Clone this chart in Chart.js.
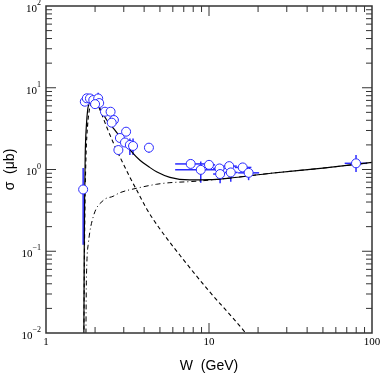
<!DOCTYPE html>
<html>
<head>
<meta charset="utf-8">
<title>sigma vs W</title>
<script src="https://cdn.jsdelivr.net/npm/chart.js@4.4.1/dist/chart.umd.min.js"></script>
<style>
  html, body { margin: 0; padding: 0; background: #fff; }
  #wrap { width: 382px; height: 379px; position: relative; }
</style>
</head>
<body>
<div id="wrap"><canvas id="sigmaChart"></canvas></div>
<script>
// Measured points (W in GeV, sigma in microbarn)
const dataW = [1.69, 1.73, 1.78, 1.86, 1.95, 2.09, 2.12, 2.00, 2.30, 2.49, 2.61, 2.53, 3.10, 2.84, 3.05,
               3.27, 3.42, 2.78, 4.28, 7.72, 8.9, 10.0, 11.6, 11.7, 13.3, 13.6, 16.1, 17.5, 79.8];
const dataS = [0.57, 6.75, 7.43, 7.40, 7.08, 7.40, 6.50, 6.30, 5.09, 5.09, 4.03, 3.74, 2.90, 2.43, 2.14,
               2.00, 1.94, 1.73, 1.85, 1.17, 0.99, 1.14, 1.03, 0.88, 1.10, 0.92, 1.06, 0.91, 1.19];
// error bars (null = hidden behind the marker)
const sLo = [0.12, null, null, null, null, 6.3, null, null, null, null, null, null, null, null, null,
             1.5, 1.5, null, 1.6, null, 0.69, null, null, 0.68, null, 0.71, 0.99, 0.74, 0.93];
const sHi = [1.04, null, null, null, null, 8.7, null, null, null, null, null, null, null, null, null,
             2.4, 2.4, null, 2.1, null, 1.25, null, null, 1.04, null, 1.04, 1.2, 1.04, 1.5];
const wLo = [null, null, null, null, null, null, null, null, null, null, null, null, null, null, null,
             null, null, null, null, 6.2, 6.2, 9.4, 10.6, 10.6, 12.2, 12.5, 14.4, 15.1, 68];
const wHi = [null, null, null, null, null, null, null, null, null, null, null, null, null, null, null,
             null, null, null, null, 9.7, 11.1, 10.9, 12.5, 12.5, 14.8, 15.0, 18.2, 20.3, 93];

// Model curves
const totalW = [1.705, 1.715, 1.725, 1.74, 1.77, 1.80, 1.835, 1.89, 1.955, 2.05, 2.2, 2.357, 2.61, 2.98,
                3.4, 3.77, 4.3, 4.8, 5.76, 7.6, 10, 13, 24, 50, 100];
const totalS = [0.005, 0.08, 0.4, 1.5, 3.5, 5.3, 6.4, 7.0, 7.1, 6.45, 5.1, 4.03, 3.13, 2.23,
                1.6, 1.3, 1.07, 0.93, 0.8, 0.745, 0.75, 0.78, 0.90, 1.04, 1.22];
const dashW = [1.705, 1.72, 1.735, 1.76, 1.80, 1.84, 1.915, 1.97, 2.05, 2.145, 2.357, 2.576, 2.844,
               3.275, 3.6, 4.15, 5.0, 7.0, 10, 14, 18];
const dashS = [0.005, 0.08, 0.4, 1.5, 3.5, 5.2, 6.69, 6.8, 6.4, 5.35, 3.31, 2.17, 1.42,
               0.80, 0.56, 0.329, 0.187, 0.078, 0.0326, 0.0153, 0.0085];
const dotW = [1.755, 1.765, 1.78, 1.82, 1.95, 2.25, 2.58, 2.84, 3.6, 4.77, 5.76, 7.6, 10, 13, 24, 50, 100];
const dotS = [0.005, 0.03, 0.07, 0.126, 0.265, 0.42, 0.47, 0.52, 0.59, 0.66, 0.69, 0.71, 0.74, 0.78, 0.90, 1.04, 1.22];

// Axis labels
const xLabelVals = [1, 10, 100];
const xLabelText = ['1', '10', '100'];
const yExponents = [-2, -1, 0, 1, 2];

const blue = '#2b2bff';
const toXY = (xs, ys) => xs.map((v, i) => ({ x: v, y: ys[i] }));

function strokeLine(ctx, x1, y1, x2, y2) {
    ctx.beginPath();
    ctx.moveTo(x1, y1);
    ctx.lineTo(x2, y2);
    ctx.stroke();
}

// error bars, drawn under the markers
const errorBars = {
    id: 'errorBars',
    beforeDatasetsDraw(chart) {
        const { ctx, scales: { x, y } } = chart;
        ctx.save();
        ctx.strokeStyle = blue;
        ctx.lineWidth = 1.5;
        dataW.forEach((w, i) => {
            const px = x.getPixelForValue(w);
            const py = y.getPixelForValue(dataS[i]);
            if (sLo[i] != null) strokeLine(ctx, px, y.getPixelForValue(sLo[i]), px, y.getPixelForValue(sHi[i]));
            if (wLo[i] != null) strokeLine(ctx, x.getPixelForValue(wLo[i]), py, x.getPixelForValue(wHi[i]), py);
        });
        ctx.restore();
    }
};

// frame, inward ticks, labels and titles
const frame = {
    id: 'frame',
    afterDraw(chart) {
        const { ctx, chartArea: a, scales: { x, y } } = chart;
        ctx.save();
        ctx.strokeStyle = '#333';
        ctx.lineWidth = 1.5;
        ctx.strokeRect(a.left, a.top, a.right - a.left, a.bottom - a.top);

        ctx.lineWidth = 1;
        // x ticks
        for (let d = 1; d < 100; d *= 10) {
            for (let m = 1; m < 10; m++) {
                const v = d * m;
                const px = x.getPixelForValue(v);
                const len = m === 1 ? 10 : 6;
                if (m > 1 || d > 1) {
                    strokeLine(ctx, px, a.bottom, px, a.bottom - len);
                    strokeLine(ctx, px, a.top, px, a.top + len);
                }
            }
        }
        // y ticks
        for (let e = -2; e < 2; e++) {
            const d = Math.pow(10, e);
            for (let m = 1; m < 10; m++) {
                const py = y.getPixelForValue(d * m);
                const len = m === 1 ? 10 : 6;
                if (m > 1 || e > -2) {
                    strokeLine(ctx, a.left, py, a.left + len, py);
                    strokeLine(ctx, a.right, py, a.right - len, py);
                }
            }
        }

        // tick labels
        ctx.fillStyle = '#000';
        ctx.font = '11px "Liberation Serif"';
        ctx.textAlign = 'center';
        ctx.textBaseline = 'middle';
        xLabelVals.forEach((v, i) => {
            ctx.fillText(xLabelText[i], x.getPixelForValue(v), a.bottom + 9);
        });
        yExponents.forEach(e => {
            const py = y.getPixelForValue(Math.pow(10, e));
            const exp = e < 0 ? '\u2212' + Math.abs(e) : String(e);
            ctx.font = '8px "Liberation Serif"';
            const ew = ctx.measureText(exp).width;
            ctx.textAlign = 'right';
            ctx.fillText(exp, 41, py - 3);
            ctx.font = '11px "Liberation Serif"';
            ctx.fillText('10', 41 - ew, py + 3);
        });

        // axis titles
        ctx.font = '14px "Liberation Sans"';
        ctx.textAlign = 'center';
        ctx.fillText('W  (GeV)', (a.left + a.right) / 2, 366);
        ctx.translate(10, (a.top + a.bottom) / 2);
        ctx.rotate(-Math.PI / 2);
        ctx.fillText('\u03c3  (\u03bcb)', 0, 0);
        ctx.restore();
    }
};

new Chart(document.getElementById('sigmaChart'), {
    type: 'scatter',
    data: {
        datasets: [
            {
                label: 'data',
                data: toXY(dataW, dataS),
                showLine: false,
                pointRadius: 4.5,
                pointBorderWidth: 1,
                pointBorderColor: blue,
                pointBackgroundColor: '#fff',
                order: 0
            },
            {
                label: 'total',
                data: toXY(totalW, totalS),
                showLine: true,
                borderColor: '#000',
                borderWidth: 1.2,
                pointRadius: 0,
                cubicInterpolationMode: 'monotone',
                order: 1
            },
            {
                label: 'dashed',
                data: toXY(dashW, dashS),
                showLine: true,
                borderColor: '#000',
                borderWidth: 1.1,
                borderDash: [4, 3],
                pointRadius: 0,
                cubicInterpolationMode: 'monotone',
                order: 2
            },
            {
                label: 'dashdot',
                data: toXY(dotW, dotS),
                showLine: true,
                borderColor: '#000',
                borderWidth: 1,
                borderDash: [5, 3, 1, 3],
                pointRadius: 0,
                cubicInterpolationMode: 'monotone',
                order: 3
            }
        ]
    },
    options: {
        responsive: true,
        maintainAspectRatio: false,
        animation: false,
        events: [],
        layout: { padding: { top: 6, right: 10, left: 0, bottom: 0 } },
        plugins: {
            legend: { display: false },
            tooltip: { enabled: false }
        },
        scales: {
            x: {
                type: 'logarithmic',
                min: 1,
                max: 100,
                grid: { display: false },
                border: { display: false },
                ticks: { display: false },
                afterFit: s => { s.height = 46; }
            },
            y: {
                type: 'logarithmic',
                min: 0.01,
                max: 100,
                grid: { display: false },
                border: { display: false },
                ticks: { display: false },
                afterFit: s => { s.width = 46; }
            }
        }
    },
    plugins: [errorBars, frame]
});
</script>
</body>
</html>
